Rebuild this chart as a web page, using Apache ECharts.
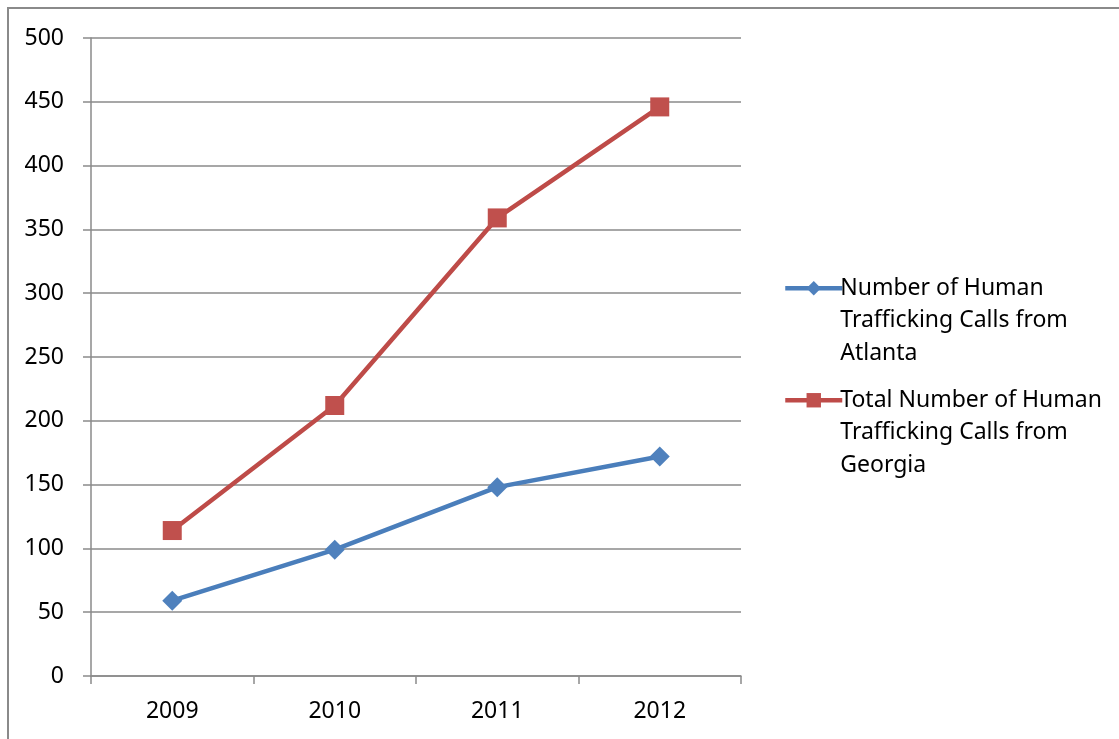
<!DOCTYPE html>
<html>
<head>
<meta charset="utf-8">
<script src="https://cdn.jsdelivr.net/npm/echarts@6/dist/echarts.min.js"></script>
<style>
  html, body { margin: 0; padding: 0; background: #ffffff; }
  #chart { width: 1119px; height: 739px; }
</style>
</head>
<body>
<div id="chart"></div>
<script>
// Yearly call counts
const years = ['2009', '2010', '2011', '2012'];
const atlantaCalls = [59, 99, 148, 172];
const georgiaCalls = [114, 212, 359, 446];
const atlantaName = 'Number of Human Trafficking Calls from Atlanta';
const georgiaName = 'Total Number of Human Trafficking Calls from Georgia';

const FONT = 'Noto Sans';
const FONT_SIZE = 23;
const GRAY = '#8a8a8a';
const BLUE = '#4a7ebb';
const RED = '#be4b48';

// Legend labels wrapped over three lines; two leading blank lines keep
// the icon level with the first line of text.
const legendLabels = {};
legendLabels[atlantaName] = '\n\nNumber of Human\nTrafficking Calls from\nAtlanta';
legendLabels[georgiaName] = '\n\nTotal Number of Human\nTrafficking Calls from\nGeorgia';

function legendFor(name, top) {
  return {
    data: [name],
    left: 783,
    top: top,
    orient: 'vertical',
    padding: 0,
    itemWidth: 57,
    itemHeight: 18,
    itemGap: 0,
    selectedMode: false,
    formatter: n => legendLabels[n],
    lineStyle: { width: 4.5 },
    textStyle: {
      fontFamily: FONT,
      fontSize: FONT_SIZE,
      lineHeight: 32.5,
      color: '#000000',
      padding: [0, 0, 0, -7]
    }
  };
}

const chart = echarts.init(document.getElementById('chart'), null, { renderer: 'canvas' });

chart.setOption({
  animation: false,
  backgroundColor: '#ffffff',
  graphic: [{
    type: 'rect',
    shape: { x: 8, y: 8, width: 1300, height: 900 },
    style: { fill: 'none', stroke: GRAY, lineWidth: 2 },
    silent: true,
    z: -1
  }],
  legend: [
    legendFor(atlantaName, 207),
    legendFor(georgiaName, 319)
  ],
  grid: { left: 91, right: 378, top: 38, bottom: 63, containLabel: false },
  xAxis: {
    type: 'category',
    data: years,
    boundaryGap: true,
    axisLine: { lineStyle: { color: GRAY, width: 1.5 } },
    axisTick: { show: true, length: 8, alignWithLabel: false, lineStyle: { color: GRAY, width: 1.5 } },
    axisLabel: { fontFamily: FONT, fontSize: FONT_SIZE, color: '#000000', margin: 24 },
    splitLine: { show: false }
  },
  yAxis: {
    type: 'value',
    min: 0,
    max: 500,
    interval: 50,
    axisLine: { show: true, lineStyle: { color: GRAY, width: 1.5 } },
    axisTick: { show: true, length: 8, lineStyle: { color: GRAY, width: 1.5 } },
    axisLabel: { fontFamily: FONT, fontSize: FONT_SIZE, color: '#000000', margin: 27 },
    splitLine: { show: true, lineStyle: { color: GRAY, width: 1.5 } }
  },
  series: [
    {
      name: atlantaName,
      type: 'line',
      data: atlantaCalls,
      symbol: 'diamond',
      symbolSize: 20,
      lineStyle: { color: BLUE, width: 4.5 },
      itemStyle: { color: '#4f81bd' },
      z: 3
    },
    {
      name: georgiaName,
      type: 'line',
      data: georgiaCalls,
      symbol: 'rect',
      symbolSize: 19,
      lineStyle: { color: RED, width: 4.5 },
      itemStyle: { color: '#c0504d' },
      z: 3
    }
  ]
});
</script>
</body>
</html>
